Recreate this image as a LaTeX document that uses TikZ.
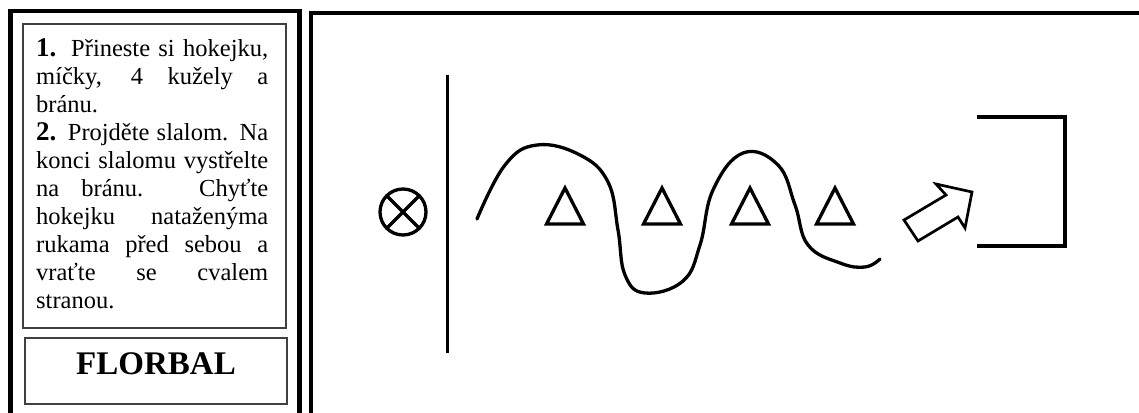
\documentclass[tikz,border=0pt]{standalone}
\usepackage{fontspec}
\setmainfont{Liberation Serif}

\newcommand{\stepnum}[1]{{\fontsize{27}{27.9}\selectfont\bfseries #1}}
\newcommand{\fullline}[1]{\makebox[232pt][s]{#1}}

\begin{document}
\begin{tikzpicture}[x=1pt, y=-1pt,
  frame/.style={line width=4.5pt},
  panel/.style={draw=black!75, line width=1.3pt},
  run/.style={line width=3.3pt, line cap=round},
  cone/.style={line width=3.3pt, line join=miter},
  body/.style={font=\fontsize{24.5}{27.9}\selectfont, align=left, inner sep=0pt}]
  \useasboundingbox (0,0) rectangle (1139,412);
  \clip (0,0) rectangle (1139,412);

  % frames
  \draw[frame] (10.5,11) rectangle (299.5,440);
  \draw[frame] (311,13) rectangle (1160,440);
  \draw[panel] (23,24) rectangle (286,328);
  \draw[panel] (25,338) rectangle (287,404);

  \node[body, anchor=base west] (steps) at (36,308) {%
    \fullline{\stepnum{1.} Přineste si hokejku,}\\
    \fullline{míčky, 4 kužely a}\\
    bránu.\\
    \fullline{\stepnum{2.} Projděte slalom. Na}\\
    \fullline{konci slalomu vystřelte}\\
    \fullline{na bránu. Chyťte}\\
    \fullline{hokejku nataženýma}\\
    \fullline{rukama před sebou a}\\
    \fullline{vraťte se cvalem}\\
    stranou.};
  \node[font=\fontsize{33}{33}\selectfont\bfseries, anchor=base] (title) at (156,374) {FLORBAL};

  % start and line
  \draw[run] (403,212) circle[radius=23];
  \draw[run] (403,212) +(45:23) -- +(225:23) +(135:23) -- +(-45:23);
  \draw[line width=3pt] (447,75) -- (447,353);

  % cones
  \foreach \cx in {565,662,750,835}
    \draw[cone] (\cx-18.5,224) -- (\cx,188) -- (\cx+18.5,224) -- cycle;

  % slalom
  \draw[run] plot[smooth, tension=0.7] coordinates {(477,219) (505,165) (537,145)
    (580,155) (608,182) (618,230) (625,275) (645,293) (683,281) (700,245)
    (713,190) (743,153) (778,165) (795,205) (808,245) (840,263) (865,267)
    (880,259)};

  % shot and goal
  \draw[line width=2.7pt, line join=miter] (904,220) -- (946,195) -- (936,184) -- (972,192)
    -- (965,228) -- (958,217) -- (918,241) -- cycle;
  \draw[line width=3.6pt] (977,117) -- (1065,117) -- (1065,246) -- (977,246);
\end{tikzpicture}
\end{document}
